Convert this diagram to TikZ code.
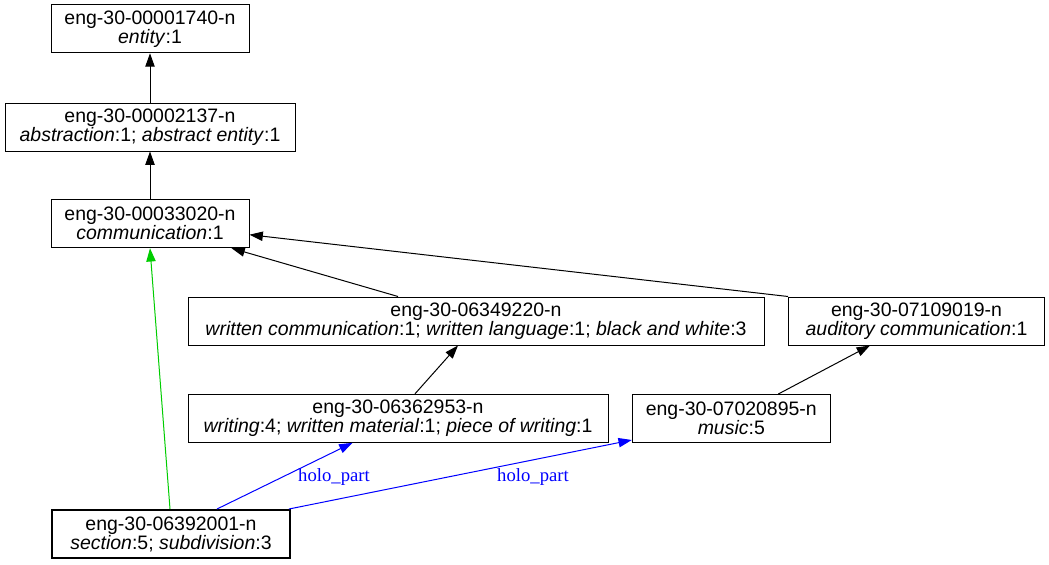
\documentclass[tikz,border=0pt]{standalone}
\usepackage{fontspec}
\setmainfont{Liberation Sans}
\newfontfamily\labfont{Liberation Serif}
\usetikzlibrary{arrows.meta,calc}
\definecolor{hypgreen}{RGB}{0,205,0}
\begin{document}
\begin{tikzpicture}[x=.75pt,y=-.75pt,
	syn/.style={draw,line width=.75pt,minimum height=36pt,inner sep=0pt,align=center,
		font=\fontsize{14.6}{14.25}\selectfont},
	hyp/.style={line width=.75pt,-{Triangle[length=10pt,width=7pt]}},
	holo/.style={hyp,blue},
	lab/.style={font=\labfont\fontsize{14}{14}\selectfont,text=blue,inner sep=0pt}]
	\useasboundingbox (0,0) rectangle (1049,564);
	% synsets
	\node[syn,minimum width=148.5pt] (entity) at (150,28.8) {eng-30-00001740-n\\\textit{entity}:1};
	\node[syn,minimum width=217.5pt] (abstr) at (150,127) {eng-30-00002137-n\\\textit{abstraction}:1; \textit{abstract entity}:1};
	\node[syn,minimum width=148.5pt] (comm) at (150,223.7) {eng-30-00033020-n\\\textit{communication}:1};
	\node[syn,minimum width=432pt] (wcomm) at (476,321) {eng-30-06349220-n\\\textit{written communication}:1; \textit{written language}:1; \textit{black and white}:3};
	\node[syn,minimum width=192pt] (audit) at (916.5,321) {eng-30-07109019-n\\\textit{auditory communication}:1};
	\node[syn,minimum width=315pt] (writ) at (398,418.3) {eng-30-06362953-n\\\textit{writing}:4; \textit{written material}:1; \textit{piece of writing}:1};
	\node[syn,minimum width=148.5pt] (music) at (731.3,418.5) {eng-30-07020895-n\\\textit{music}:5};
	\node[syn,minimum width=178.5pt,line width=1.5pt] (sect) at (171,534) {eng-30-06392001-n\\\textit{section}:5; \textit{subdivision}:3};
	% hypernyms
	\draw[hyp] (abstr) -- (entity);
	\draw[hyp] (comm) -- (abstr);
	\draw[hyp] ($(wcomm.north)+(-78,0)$) -- ($(comm.south east)+(-18,0)$);
	\draw[hyp] (audit.north west) -- ($(comm.east)+(0,11)$);
	\draw[hyp] ($(writ.north)+(17,0)$) -- ($(wcomm.south)+(-18,0)$);
	\draw[hyp] ($(music.north)+(47,0)$) -- ($(audit.south)+(-46.5,0)$);
	\draw[hyp,hypgreen] ($(sect.north)+(-1,0)$) -- (comm.south);
	% holonyms
	\draw[holo] ($(sect.north)+(46,0)$) -- ($(writ.south)+(-45.5,0)$);
	\draw[holo] ($(sect.north east)+(-2,0)$) -- ($(music.south west)+(0,-3)$);
	\node[lab] (holo1) at (334,477) {holo\_part};
	\node[lab] (holo2) at (533,477) {holo\_part};
\end{tikzpicture}
\end{document}
